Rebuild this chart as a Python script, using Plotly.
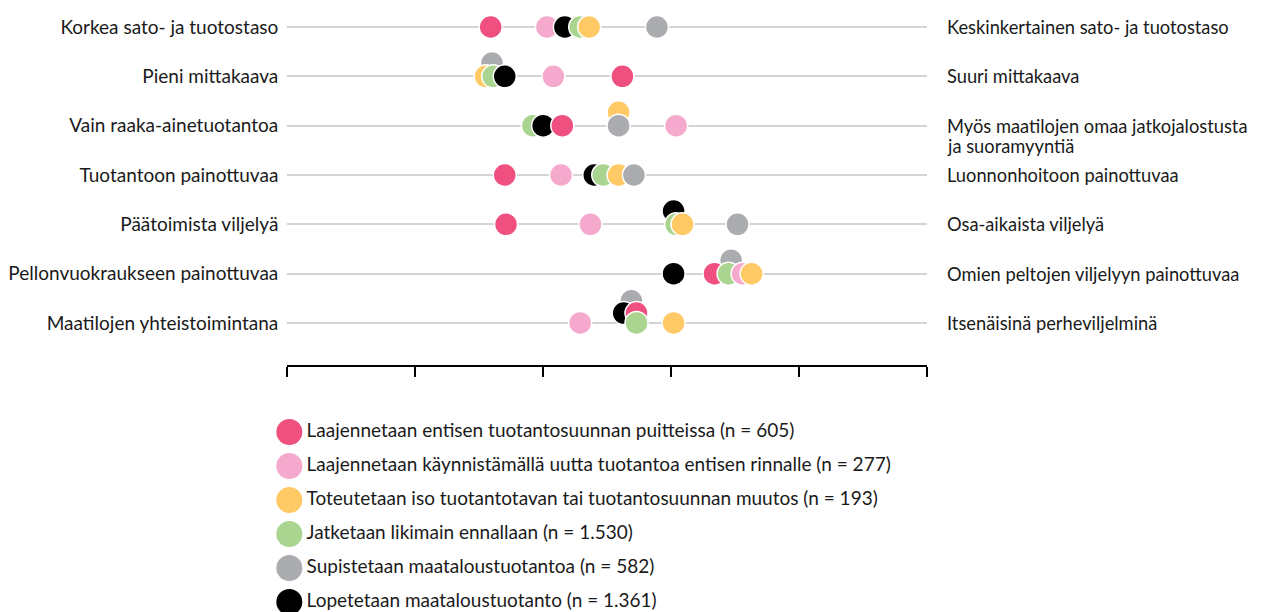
import plotly.graph_objects as go

# rows: left end / right end of each scale
left_labels = [
    "Korkea sato- ja tuotostaso",
    "Pieni mittakaava",
    "Vain raaka-ainetuotantoa",
    "Tuotantoon painottuvaa",
    "Päätoimista viljelyä",
    "Pellonvuokraukseen painottuvaa",
    "Maatilojen yhteistoimintana",
]
right_labels = [
    "Keskinkertainen sato- ja tuotostaso",
    "Suuri mittakaava",
    "Myös maatilojen omaa jatkojalostusta<br>ja suoramyyntiä",
    "Luonnonhoitoon painottuvaa",
    "Osa-aikaista viljelyä",
    "Omien peltojen viljelyyn painottuvaa",
    "Itsenäisinä perheviljelminä",
]

series_names = [
    "Laajennetaan entisen tuotantosuunnan puitteissa (n = 605)",
    "Laajennetaan käynnistämällä uutta tuotantoa entisen rinnalle (n = 277)",
    "Toteutetaan iso tuotantotavan tai tuotantosuunnan muutos (n = 193)",
    "Jatketaan likimain ennallaan (n = 1.530)",
    "Supistetaan maataloustuotantoa (n = 582)",
    "Lopetetaan maataloustuotanto (n = 1.361)",
]

# mean scores (scale 1-6), one value per row
laajennetaan_entinen = [2.59, 3.62, 3.15, 2.70, 2.71, 4.34, 3.73]
laajennetaan_uusi = [3.03, 3.08, 4.04, 3.14, 3.37, 4.56, 3.29]
iso_muutos = [3.36, 2.55, 3.59, 3.59, 4.09, 4.63, 4.02]
ennallaan = [3.29, 2.61, 2.92, 3.47, 4.04, 4.45, 3.73]
supistetaan = [3.89, 2.60, 3.59, 3.71, 4.52, 4.47, 3.69]
lopetetaan = [3.17, 2.70, 3.00, 3.40, 4.02, 4.02, 3.63]

series_values = [laajennetaan_entinen, laajennetaan_uusi, iso_muutos,
                 ennallaan, supistetaan, lopetetaan]
colors = ["#EF5080", "#F5A9CC", "#FFC966", "#A9D590", "#ABACAF", "#000000"]

# overlapping dots are lifted above the row line (series index, row) -> rows
lift = {(4, 1): 0.27, (2, 2): 0.27, (5, 4): 0.27, (4, 5): 0.27,
        (5, 6): 0.2, (0, 6): 0.2, (4, 6): 0.45}

font = "Lato, 'Open Sans', sans-serif"
text_color = "#1a1a1a"
fs = 19

# page has an 8px body margin, so the figure is drawn 8px smaller
W, H, PAD = 1256, 604, 8


def fx(px):
    return (px - PAD) / W


fig = go.Figure()

# one trace per row so that the draw order follows the picture
for r in range(len(left_labels)):
    pts = []
    for s, vals in enumerate(series_values):
        off = lift.get((s, r), 0)
        pts.append((-off, vals[r], r - off, colors[s]))
    pts.sort(key=lambda p: (p[0], p[1]))
    fig.add_trace(go.Scatter(
        x=[p[1] for p in pts], y=[p[2] for p in pts], mode="markers",
        marker=dict(size=23, color=[p[3] for p in pts],
                    line=dict(color="white", width=1.5)),
        showlegend=False, hoverinfo="x", cliponaxis=False,
    ))

# legend drawn as its own small scatter
fig.add_trace(go.Scatter(
    x=[0] * len(series_names), y=list(range(len(series_names))),
    mode="markers+text", text=series_names, textposition="middle right",
    textfont=dict(size=fs, color=text_color, family=font),
    marker=dict(size=26, color=colors),
    xaxis="x2", yaxis="y2", showlegend=False, hoverinfo="skip", cliponaxis=False,
))

for r, lab in enumerate(right_labels):
    for k, line in enumerate(lab.split("<br>")):
        fig.add_annotation(
            text=line, xref="paper", yref="y", x=fx(944), y=r,
            xanchor="left", yanchor="middle", yshift=-20 * k, showarrow=False,
            font=dict(size=18.3, color=text_color, family=font),
        )

fig.update_layout(
    width=W, height=H,
    margin=dict(l=0, r=0, t=0, b=0),
    paper_bgcolor="white", plot_bgcolor="white",
    font=dict(family=font, size=fs, color=text_color),
    xaxis=dict(domain=[fx(285), fx(926)], range=[1, 6],
               tickvals=[1, 2, 3, 4, 5, 6], showticklabels=False,
               ticks="outside", ticklen=10, tickwidth=2, tickcolor="black",
               showline=True, linecolor="black", linewidth=2,
               showgrid=False, zeroline=False),
    yaxis=dict(domain=[1 - 357 / H, 1], range=[6.852, -0.385],
               tickvals=list(range(len(left_labels))), ticktext=left_labels,
               showgrid=True, gridcolor="#d4d4d4", gridwidth=1.5,
               zeroline=False, ticks="", ticklabelstandoff=8),
    xaxis2=dict(domain=[0.2, 0.95], range=[-0.0295, 0.9705], visible=False),
    yaxis2=dict(domain=[0, 197 / H], range=[5.294, -0.5], visible=False),
    showlegend=False,
)

fig.write_html("out.html")
